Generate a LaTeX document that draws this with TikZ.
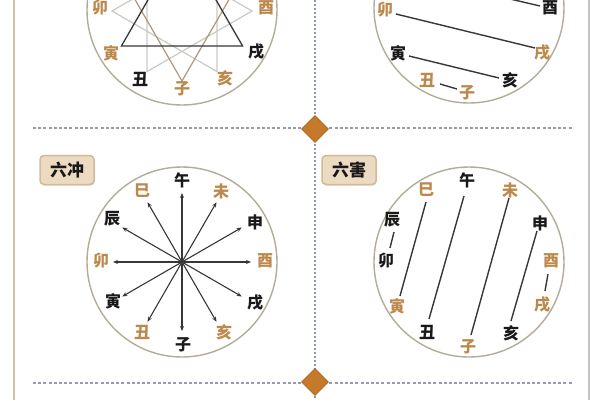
\documentclass[tikz,border=0pt]{standalone}
\usepackage{fontspec}
\newfontfamily\cjk{Noto Sans CJK SC}
\usetikzlibrary{shapes.geometric,arrows.meta,shadows,calc}
\definecolor{lbrn}{RGB}{188,136,76}
\definecolor{lblk}{RGB}{25,25,25}
\definecolor{circc}{RGB}{178,172,152}
\definecolor{darkl}{RGB}{55,55,55}
\definecolor{tanl}{RGB}{172,152,122}
\definecolor{grayl}{RGB}{202,202,196}
\definecolor{dashc}{RGB}{150,156,172}
\definecolor{dotc}{RGB}{140,150,178}
\definecolor{diac}{RGB}{196,122,42}
\definecolor{diad}{RGB}{170,100,30}
\definecolor{boxf}{RGB}{236,219,194}
\definecolor{boxd}{RGB}{212,186,148}
\definecolor{leftb}{RGB}{205,196,160}
\definecolor{rightb}{RGB}{200,195,190}
\begin{document}
\begin{tikzpicture}[x=1pt,y=-1pt,
  lb/.style={font=\cjk\bfseries\fontsize{16}{16}\selectfont, inner sep=0pt, text=lblk},
  br/.style={lb, text=lbrn},
  ring/.style={circle, draw=circc, line width=1.4pt, minimum size=190pt, inner sep=0pt},
  darktri/.style={draw=darkl, line width=1.3pt, line join=miter},
  tantri/.style={draw=tanl, line width=1.2pt},
  graytri/.style={draw=grayl, line width=1.2pt},
  pairln/.style={draw=darkl, line width=1.4pt},
  spoke/.style={draw=darkl, line width=1.1pt, -{Stealth[length=5pt,width=4pt]}},
  dashln/.style={draw=dashc, line width=1.3pt, dash pattern=on 3pt off 2.2pt},
  dotln/.style={draw=dotc, line width=1.6pt, dash pattern=on 1.5pt off 2.5pt},
  dmd/.style={diamond, fill=diac, draw=diad, line width=0.6pt, minimum size=27pt, inner sep=0pt},
  tagbox/.style={rectangle, rounded corners=4pt, fill=boxf, draw=boxd, line width=1.5pt,
    minimum width=54pt, minimum height=29pt, inner sep=0pt,
    font=\cjk\bfseries\fontsize{17}{17}\selectfont, text=lblk,
    drop shadow={opacity=0.25, shadow xshift=1pt, shadow yshift=-1pt}}]
\useasboundingbox (0,0) rectangle (600,400);
\clip (0,0) rectangle (600,400);
\fill[white] (0,0) rectangle (600,400);

% frame
\coordinate (lbT) at (14,0); \coordinate (lbB) at (14,400);
\coordinate (rbT) at (589,0); \coordinate (rbB) at (589,400);
\draw[leftb, line width=2.5pt] (lbT) -- (lbB);
\draw[rightb, line width=2pt] (rbT) -- (rbB);

% separators
\coordinate (h1a) at (33,128); \coordinate (h1b) at (573,128);
\coordinate (h2a) at (33,383); \coordinate (h2b) at (573,383);
\coordinate (vT) at (315,0); \coordinate (vB) at (315,400);
\draw[dashln] (h1a) -- (h1b);
\draw[dashln] (h2a) -- (h2b);
\draw[dotln] (vT) -- (vB);
\node[dmd] (d1) at (315,129) {};
\node[dmd] (d2) at (315,382) {};

% ===== top-left: san he =====
\node[ring] (c1) at (182,10) {};
\coordinate (zi1) at (182,81);
\coordinate (hai1) at (217,71.6);
\coordinate (xu1) at (242.6,46);
\coordinate (you1) at (252,11);
\coordinate (shen1) at (242.6,-24);
\coordinate (wei1) at (217,-49.6);
\coordinate (wu1) at (182,-59);
\coordinate (si1) at (147,-49.6);
\coordinate (chen1) at (121.4,-24);
\coordinate (mao1) at (112,11);
\coordinate (yin1) at (121.4,46);
\coordinate (chou1) at (147,71.6);
\draw[graytri] (mao1) -- (hai1) -- (wei1) -- cycle;
\draw[graytri] (you1) -- (chou1) -- (si1) -- cycle;
\draw[tantri] (zi1) -- (shen1) -- (chen1) -- cycle;
\draw[darktri] (yin1) -- (xu1) -- (wu1) -- cycle;
\node[br] (A-mao) at (100,8) {卯};
\node[br] (A-you) at (266,8) {酉};
\node[br] (A-yin) at (111,53) {寅};
\node[lb] (A-xu) at (256,52) {戌};
\node[lb] (A-chou) at (140,79) {丑};
\node[br] (A-zi) at (182,89) {子};
\node[br] (A-hai) at (225,78) {亥};

% ===== top-right: liu he =====
\node[ring] (c2) at (469,8) {};
\node[br] (B-mao) at (385,10) {卯};
\node[lb] (B-you) at (550,8) {酉};
\node[lb] (B-yin) at (398,53) {寅};
\node[br] (B-xu) at (542,53) {戌};
\node[br] (B-chou) at (427,80) {丑};
\node[br] (B-zi) at (467,93) {子};
\node[lb] (B-hai) at (510,80) {亥};
\coordinate (p1a) at (395,-28); \coordinate (p1b) at (540,6);
\coordinate (p2a) at (396,14); \coordinate (p2b) at (535,48);
\coordinate (p3a) at (409,56); \coordinate (p3b) at (499,78);
\coordinate (p4a) at (440,84); \coordinate (p4b) at (457,89);
\draw[pairln] (p1a) -- (p1b);
\draw[pairln] (p2a) -- (p2b);
\draw[pairln] (p3a) -- (p3b);
\draw[pairln] (p4a) -- (p4b);

% ===== bottom-left: liu chong =====
\node[tagbox] (t1) at (67,170) {六冲};
\node[ring] (c3) at (182,262) {};
\node[lb] (C-wu) at (182,180) {午};
\node[br] (C-si) at (142,191) {巳};
\node[br] (C-wei) at (221,191) {未};
\node[lb] (C-chen) at (112,219) {辰};
\node[lb] (C-shen) at (255,222) {申};
\node[br] (C-mao) at (101,261) {卯};
\node[br] (C-you) at (265,261) {酉};
\node[lb] (C-yin) at (113,301) {寅};
\node[lb] (C-xu) at (255,303) {戌};
\node[br] (C-chou) at (142,332) {丑};
\node[lb] (C-zi) at (183,345) {子};
\node[br] (C-hai) at (224,332) {亥};
\node[circle, fill=darkl, minimum size=4pt, inner sep=0pt] (cc) at (182,262) {};
\foreach \a/\n in {90/zi,60/hai,30/xu,0/you,-30/shen,-60/wei,-90/wu,-120/si,-150/chen,180/mao,150/yin,120/chou}{
  \coordinate (s-\n) at ($(cc)+(\a:69)$);
  \draw[spoke] (cc.center) -- (s-\n);
}

% ===== bottom-right: liu hai =====
\node[tagbox] (t2) at (349,170) {六害};
\node[ring] (c4) at (469,262) {};
\node[lb] (D-wu) at (467,180) {午};
\node[br] (D-si) at (426,190) {巳};
\node[br] (D-wei) at (510,190) {未};
\node[lb] (D-chen) at (392,220) {辰};
\node[lb] (D-shen) at (540,223) {申};
\node[lb] (D-mao) at (386,261) {卯};
\node[br] (D-you) at (551,261) {酉};
\node[br] (D-yin) at (397,306) {寅};
\node[br] (D-xu) at (542,305) {戌};
\node[lb] (D-chou) at (427,332) {丑};
\node[br] (D-zi) at (468,347) {子};
\node[lb] (D-hai) at (511,333) {亥};
\coordinate (q1a) at (394,232); \coordinate (q1b) at (390,248);
\coordinate (q2a) at (426,202); \coordinate (q2b) at (400,296);
\coordinate (q3a) at (464,196); \coordinate (q3b) at (429,319);
\coordinate (q4a) at (509,198); \coordinate (q4b) at (471,335);
\coordinate (q5a) at (537,231); \coordinate (q5b) at (511,321);
\coordinate (q6a) at (548,274); \coordinate (q6b) at (545,291);
\draw[pairln] (q1a) -- (q1b);
\draw[pairln] (q2a) -- (q2b);
\draw[pairln] (q3a) -- (q3b);
\draw[pairln] (q4a) -- (q4b);
\draw[pairln] (q5a) -- (q5b);
\draw[pairln] (q6a) -- (q6b);
\end{tikzpicture}
\end{document}
